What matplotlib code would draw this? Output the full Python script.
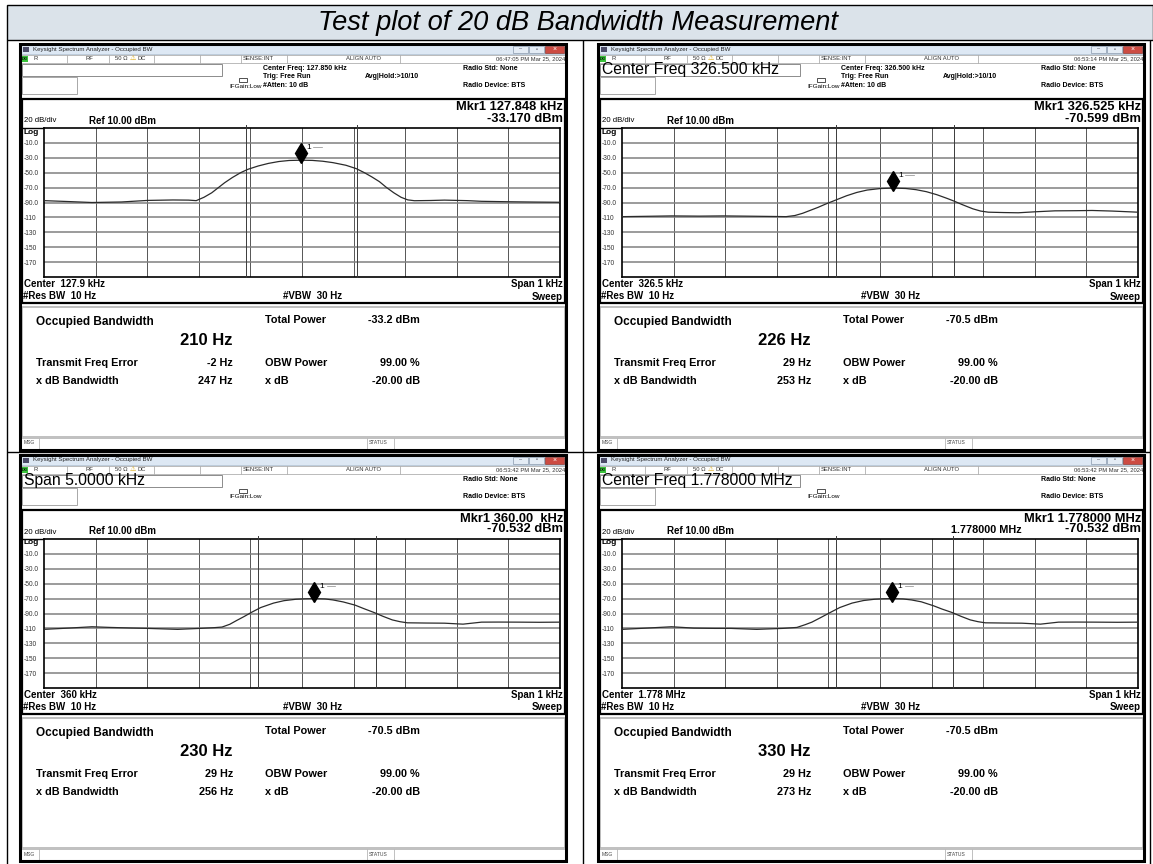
import numpy as np
import matplotlib
matplotlib.use("Agg")
import matplotlib.pyplot as plt
from matplotlib.patches import Rectangle

W, H = 1153, 864
plt.rcParams['font.family'] = ['Liberation Sans', 'DejaVu Sans']

TITLE = "Test plot of 20 dB Bandwidth Measurement"

# per-panel values (TL, TR, BL, BR)
ENTRY = ["", "Center Freq 326.500 kHz", "Span 5.0000 kHz", "Center Freq 1.778000 MHz"]
STAMP = ["06:47:05 PM Mar 25, 2024", "06:53:14 PM Mar 25, 2024",
         "06:53:42 PM Mar 25, 2024", "06:53:42 PM Mar 25, 2024"]
CF_SET = ["127.850 kHz", "326.500 kHz", None, None]
MKR_FREQ = ["127.848 kHz", "326.525 kHz", "360.00  kHz", "1.778000 MHz"]
MKR_AMP = ["-33.170 dBm", "-70.599 dBm", "-70.532 dBm", "-70.532 dBm"]
MKR_EXTRA = [None, None, None, "1.778000 MHz"]
CENTER = ["127.9 kHz", "326.5 kHz", "360 kHz", "1.778 MHz"]
TOTAL_PWR = ["-33.2 dBm", "-70.5 dBm", "-70.5 dBm", "-70.5 dBm"]
OBW = ["210 Hz", "226 Hz", "230 Hz", "330 Hz"]
FREQ_ERR = ["-2 Hz", "29 Hz", "29 Hz", "29 Hz"]
XDB_BW = ["247 Hz", "253 Hz", "256 Hz", "273 Hz"]
MKR_OFF = [-2, 25, 24, 24]            # Hz from centre
MKR_LVL = [-33.17, -70.599, -70.532, -70.532]
OBW_EDGES = [(-108, 106), (-85, 143), (-86, 143), (-85, 141)]

YTICKS = [-10, -30, -50, -70, -90, -110, -130, -150, -170]
YLABELS = ["-10.0", "-30.0", "-50.0", "-70.0", "-90.0", "-110", "-130", "-150", "-170"]

# traces: offset from centre (Hz) and level (dBm)
F1 = [-500, -450, -407, -350, -299, -250, -220, -205, -190, -175, -162, -150, -135, -119,
      -105, -85, -65, -45, -25, -2, 20, 40, 60, 85, 105, 121, 135, 150, 164, 178, 192,
      205, 218, 250, 276, 320, 348, 400, 450, 500]
L1 = [-87.5, -88.8, -90, -89.3, -87.2, -86.6, -86.8, -87.5, -83, -77, -70, -63.5, -56.5,
      -50, -45.5, -41, -37.5, -35, -33.6, -33.2, -33.5, -34.6, -36.5, -40, -44.5, -50,
      -55.5, -62, -70, -77, -83, -86.5, -87.6, -87.3, -86.8, -87.5, -88.4, -89, -89.4, -89.7]
F2 = [-500, -450, -404, -350, -304, -250, -200, -182, -165, -150, -135, -120, -105, -85,
      -65, -45, -25, 0, 25, 50, 70, 90, 110, 130, 143, 160, 180, 195, 210, 240, 268, 300,
      339, 380, 411, 450, 500]
L2 = [-109, -108.5, -108, -108.3, -108, -108.4, -108.8, -109, -107.5, -104.5, -100.5,
      -96.5, -92, -86.5, -81, -76.5, -73.3, -71.3, -70.6, -71.2, -72.8, -75.5, -79.5,
      -84.5, -88, -93, -98.5, -101.5, -103, -103.5, -103.8, -102.5, -101.2, -101, -100.7,
      -101.5, -103]
F3 = [-500, -450, -407, -371, -330, -299, -241, -198, -170, -155, -140, -127, -112, -98,
      -80, -55, -35, -12, 5, 24, 45, 60, 80, 103, 120, 139, 157, 175, 190, 204, 240, 276,
      312, 348, 380, 420, 460, 500]
L3 = [-111.3, -109.5, -107.8, -108.7, -109.5, -110, -111.3, -110, -109, -108.2, -104.5,
      -99.5, -94, -88.5, -82, -76, -72.8, -70.9, -70.3, -70, -70.5, -71.8, -74.5, -78.8,
      -83.5, -88.5, -93.8, -98.6, -101, -102.5, -102.8, -103, -104.3, -101.6, -101.5,
      -101.6, -101.8, -101.6]
F4 = [-500, -450, -404, -361, -320, -289, -239, -189, -161, -145, -132, -115, -96, -78,
      -54, -32, -11, 5, 24, 45, 61, 80, 104, 120, 139, 157, 175, 190, 204, 240, 275, 311,
      346, 380, 418, 460, 500]
L4 = [-111.3, -109.5, -107.8, -109.6, -110, -110, -111.3, -110, -108.7, -105, -101.6,
      -95.5, -88.5, -82, -76, -72.6, -70.9, -70.3, -70, -70.5, -71.8, -74.3, -79.7, -84,
      -88.5, -93.8, -98.6, -101, -102.5, -102.8, -103, -104.3, -101.6, -101.5, -101.6,
      -101.8, -101.6]
TRACES = [(F1, L1), (F2, L2), (F3, L3), (F4, L4)]

# window placement (pixels)
WIN_X = [20, 598, 20, 598]
WIN_Y = [44, 44, 455, 455]
WW, WH = 546, 406

fig = plt.figure(figsize=(W / 100, H / 100), dpi=100)
bg = fig.add_axes([0, 0, 1, 1])
bg.set_xlim(0, W)
bg.set_ylim(H, 0)
bg.axis("off")


def rect(x, y, w, h, fc="none", ec="none", lw=0.6, z=1):
    bg.add_patch(Rectangle((x, y), w, h, facecolor=fc, edgecolor=ec, linewidth=lw, zorder=z))


def txt(x, y, s, size, weight="normal", ha="left", color="black", style="normal", z=3):
    bg.text(x, y, s, fontsize=size, fontweight=weight, ha=ha, va="center",
            color=color, fontstyle=style, zorder=z)


def vline(x, y1, y2, color="black", lw=1.0, z=2):
    bg.plot([x, x], [y1, y2], color=color, lw=lw, zorder=z, solid_capstyle="butt")


def hline(y, x1, x2, color="black", lw=1.0, z=2):
    bg.plot([x1, x2], [y, y], color=color, lw=lw, zorder=z, solid_capstyle="butt")


# document title bar + table lines
rect(7, 5, W - 7, 35, fc="#dbe3ea", ec="black", lw=1.0)
txt(578, 22.5, TITLE, 19.6, style="italic", ha="center")
vline(7, 40, H)
vline(583, 40, H)
vline(1150, 40, H)
hline(452, 7, 1150)


def draw_window(i):
    x0, y0 = WIN_X[i], WIN_Y[i]
    rect(x0, y0, WW, WH, fc="white")
    # title bar
    rect(x0, y0, WW, 10, fc="#dde8f4", ec="#a9bbcf", lw=0.5)
    rect(x0 + 3, y0 + 2.5, 6, 5, fc="#4b4b68")
    txt(x0 + 13, y0 + 5, "Keysight Spectrum Analyzer - Occupied BW", 4.4, color="#222222")
    rect(x0 + 493, y0 + 1.5, 15, 7, fc="#e4ecf5", ec="#8797ab", lw=0.5)
    rect(x0 + 509, y0 + 1.5, 15, 7, fc="#e4ecf5", ec="#8797ab", lw=0.5)
    rect(x0 + 525, y0 + 1.5, 19, 7, fc="#cc4b42", ec="#8a3a34", lw=0.5)
    txt(x0 + 500.5, y0 + 5, "–", 4, ha="center", color="#445")
    txt(x0 + 516.5, y0 + 5, "▫", 4, ha="center", color="#445")
    txt(x0 + 534.5, y0 + 5, "×", 5, ha="center", color="white")
    # status row
    rect(x0 + 1, y0 + 11, WW - 2, 7.5, fc="white", ec="#a0a0a0", lw=0.5)
    rect(x0 + 2, y0 + 11.5, 6, 6.5, fc="#39c23a")
    txt(x0 + 5, y0 + 14.7, "LXI", 2.6, ha="center", weight="bold")
    for dx in [47, 89, 134, 180, 221, 267, 380]:
        vline(x0 + dx, y0 + 11, y0 + 18.5, color="#a0a0a0", lw=0.5)
    txt(x0 + 13, y0 + 14.7, "R", 4.2, color="#333")
    txt(x0 + 66, y0 + 14.7, "RF", 4.2, color="#333")
    txt(x0 + 95, y0 + 14.7, "50 Ω", 4.2, color="#333")
    txt(x0 + 110, y0 + 14.5, "⚠", 5, color="#d9a400")
    txt(x0 + 118, y0 + 14.7, "DC", 4.2, color="#333")
    txt(x0 + 223, y0 + 14.7, "SENSE:INT", 4.2, color="#333")
    txt(x0 + 326, y0 + 14.7, "ALIGN AUTO", 4.2, color="#333")
    txt(x0 + 545, y0 + 14.7, STAMP[i], 4.2, ha="right", color="#333")
    # info area
    rect(x0 + 2, y0 + 19.5, 200, 12.5, fc="white", ec="#7a7a7a", lw=0.6)
    rect(x0 + 2, y0 + 33, 55, 17, fc="white", ec="#9a9a9a", lw=0.6)
    if ENTRY[i]:
        txt(x0 + 3.5, y0 + 25.8, ENTRY[i], 11.3)
    if CF_SET[i]:
        txt(x0 + 243, y0 + 24.5, "Center Freq: " + CF_SET[i], 5, weight="bold")
        txt(x0 + 243, y0 + 33, "Trig: Free Run", 5, weight="bold")
        txt(x0 + 243, y0 + 41.5, "#Atten: 10 dB", 5, weight="bold")
        txt(x0 + 345, y0 + 33, "Avg|Hold:>10/10", 5, weight="bold")
    txt(x0 + 209, y0 + 42, "IFGain:Low", 4.6)
    rect(x0 + 219, y0 + 34, 8, 4, fc="white", ec="#333", lw=0.6)
    txt(x0 + 443, y0 + 24.5, "Radio Std: None", 5, weight="bold")
    txt(x0 + 443, y0 + 41.5, "Radio Device: BTS", 5, weight="bold")
    # graph frame
    rect(x0 + 2, y0 + 55, 543, 204, fc="white", ec="black", lw=1.6)
    txt(x0 + 543, y0 + 63.5, "Mkr1 " + MKR_FREQ[i], 9.3, weight="bold", ha="right")
    txt(x0 + 543, y0 + 74.5, MKR_AMP[i], 9.3, weight="bold", ha="right")
    if MKR_EXTRA[i]:
        txt(x0 + 353, y0 + 75, MKR_EXTRA[i], 7.8, weight="bold")
    txt(x0 + 4, y0 + 77, "20 dB/div", 5.6)
    txt(x0 + 69, y0 + 76.5, "Ref 10.00 dBm", 7, weight="bold")
    txt(x0 + 4, y0 + 88, "Log", 6, weight="bold")
    hline(y0 + 84, x0 + 2, x0 + 24, lw=1.0)
    txt(x0 + 4, y0 + 240, "Center  " + CENTER[i], 7, weight="bold")
    txt(x0 + 543, y0 + 240, "Span 1 kHz", 7, weight="bold", ha="right")
    txt(x0 + 3, y0 + 252, "#Res BW  10 Hz", 7, weight="bold")
    txt(x0 + 263, y0 + 252, "#VBW  30 Hz", 7, weight="bold")
    txt(x0 + 543, y0 + 252.5, "Sweep", 7, weight="bold", ha="right")
    # results panel
    rect(x0 + 2, y0 + 263, 543, 130, fc="white", ec="#b5b5b5", lw=1.2)
    txt(x0 + 16, y0 + 278, "Occupied Bandwidth", 8.5, weight="bold")
    txt(x0 + 213, y0 + 296.5, OBW[i], 12, weight="bold", ha="right")
    txt(x0 + 245, y0 + 276, "Total Power", 7.8, weight="bold")
    txt(x0 + 400, y0 + 276, TOTAL_PWR[i], 7.8, weight="bold", ha="right")
    txt(x0 + 16, y0 + 319, "Transmit Freq Error", 7.8, weight="bold")
    txt(x0 + 213, y0 + 319, FREQ_ERR[i], 7.8, weight="bold", ha="right")
    txt(x0 + 245, y0 + 319, "OBW Power", 7.8, weight="bold")
    txt(x0 + 400, y0 + 319, "99.00 %", 7.8, weight="bold", ha="right")
    txt(x0 + 16, y0 + 337, "x dB Bandwidth", 7.8, weight="bold")
    txt(x0 + 213, y0 + 337, XDB_BW[i], 7.8, weight="bold", ha="right")
    txt(x0 + 245, y0 + 337, "x dB", 7.8, weight="bold")
    txt(x0 + 400, y0 + 337, "-20.00 dB", 7.8, weight="bold", ha="right")
    # message bar
    rect(x0 + 1, y0 + 393.5, WW - 2, 11.5, fc="white", ec="#b5b5b5", lw=0.6)
    for dx in [19, 347, 374]:
        vline(x0 + dx, y0 + 393.5, y0 + 405, color="#b5b5b5", lw=0.6)
    txt(x0 + 4, y0 + 399, "MSG", 3.6, color="#444")
    txt(x0 + 349, y0 + 399, "STATUS", 3.6, color="#444")
    # window edge
    rect(x0, y0, WW, WH, ec="black", lw=2.2, z=4)

    # trace graticule
    gx, gy, gw, gh = x0 + 24, y0 + 84, 516, 149
    ax = fig.add_axes([gx / W, 1 - (gy + gh) / H, gw / W, gh / H])
    ax.set_xlim(-500, 500)
    ax.set_ylim(-190, 10)
    ax.set_xticks(range(-400, 401, 100))
    ax.set_xticklabels([])
    ax.set_yticks(YTICKS, labels=YLABELS)
    ax.tick_params(axis="both", length=0)
    ax.tick_params(axis="y", pad=14.4, labelsize=4.8, labelcolor="#333333")
    for t in ax.get_yticklabels():
        t.set_ha("left")
    ax.xaxis.grid(True, color="#555555", lw=0.7)
    ax.yaxis.grid(True, color="#808080", lw=1.1)
    for s in ax.spines.values():
        s.set_color("black")
        s.set_linewidth(1.2)
    for e in OBW_EDGES[i]:
        ax.plot([e, e], [-190, 14], color="#3a3a3a", lw=0.7, clip_on=False, zorder=3)
    f, l = TRACES[i]
    ax.plot(f, l, color="#2b2b2b", lw=0.9, zorder=4)
    m, lv = MKR_OFF[i], MKR_LVL[i]
    ax.plot(m, lv + 9.5, marker="d", ms=10, color="black", mec="black", zorder=5, clip_on=False)
    ax.text(m + 10, lv + 17, "1", fontsize=6, va="center", zorder=5)
    ax.plot([m + 24, m + 40], [lv + 17, lv + 17], color="#888888", lw=0.5, zorder=5)


for i in range(4):
    draw_window(i)

fig.savefig("out.png", dpi=100)
